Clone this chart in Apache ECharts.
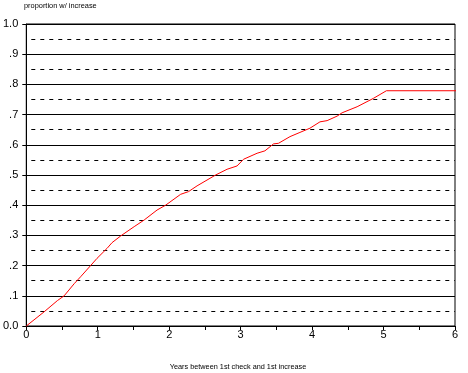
<!DOCTYPE html>
<html>
<head>
<meta charset="utf-8">
<script src="https://cdn.jsdelivr.net/npm/echarts@6/dist/echarts.min.js"></script>
<style>
html, body { margin: 0; padding: 0; background: #fff; }
#chart { width: 468px; height: 373px; }
</style>
</head>
<body>
<div id="chart"></div>
<script>
var years = [0, 0.25, 0.435, 0.53, 0.67, 0.76, 0.90, 0.99, 1.13, 1.20, 1.32, 1.51, 1.65, 1.83, 1.95, 2.16, 2.27, 2.39, 2.65, 2.81, 2.95, 3.04, 3.23, 3.34, 3.46, 3.53, 3.69, 3.83, 3.97, 4.11, 4.21, 4.35, 4.42, 4.63, 4.86, 5.04, 6.2];
var proportions = [0, 0.047, 0.084, 0.10, 0.14, 0.163, 0.20, 0.224, 0.257, 0.276, 0.298, 0.329, 0.351, 0.384, 0.40, 0.436, 0.445, 0.464, 0.50, 0.519, 0.53, 0.552, 0.572, 0.58, 0.603, 0.605, 0.627, 0.641, 0.655, 0.676, 0.68, 0.695, 0.706, 0.726, 0.754, 0.779, 0.779];
var xTickLabels = ['0', '1', '2', '3', '4', '5', '6'];
var yTickLabels = ['0.0', '.1', '.2', '.3', '.4', '.5', '.6', '.7', '.8', '.9', '1.0'];
var yTitle = 'proportion w/ increase';
var xTitle = 'Years between 1st check and 1st increase';

var font = '"Liberation Sans", Arial, sans-serif';
var chart = echarts.init(document.getElementById('chart'), null, { renderer: 'canvas' });
var data = years.map(function (x, i) { return [x, proportions[i]]; });

chart.setOption({
  animation: false,
  backgroundColor: '#fff',
  grid: { left: 25, right: 13, top: 24, bottom: 47, show: true, borderColor: '#000', borderWidth: 1, backgroundColor: 'transparent' },
  xAxis: {
    type: 'value', min: 0, max: 6, interval: 1,
    axisLine: { show: true, onZero: false, lineStyle: { color: '#000', width: 1 } },
    axisTick: { show: true, length: 4, lineStyle: { color: '#000' } },
    minorTick: { show: true, splitNumber: 2, length: 4, lineStyle: { color: '#000' } },
    splitLine: { show: false },
    axisLabel: { color: '#000', fontSize: 11, fontFamily: font, margin: 3,
      formatter: function (v) { return xTickLabels[Math.round(v)]; } }
  },
  yAxis: {
    type: 'value', min: 0, max: 1, interval: 0.1,
    axisLine: { show: true, onZero: false, lineStyle: { color: '#000', width: 1 } },
    axisTick: { show: true, length: 4, lineStyle: { color: '#000' } },
    minorTick: { show: false, splitNumber: 2 },
    splitLine: { show: true, lineStyle: { color: '#000', width: 1 } },
    minorSplitLine: { show: true, lineStyle: { color: '#000', width: 1, type: [4, 5], dashOffset: 4 } },
    axisLabel: { color: '#000', fontSize: 11, fontFamily: font, margin: 8,
      formatter: function (v) { return yTickLabels[Math.round(v * 10)]; } }
  },
  graphic: [
    { type: 'text', left: 24, top: 2, style: { text: yTitle, fontSize: 7.4, fontFamily: font, fill: '#000' } },
    { type: 'text', x: 238, y: 367, style: { text: xTitle, fontSize: 7.3, fontFamily: font, fill: '#000', textAlign: 'center', textVerticalAlign: 'middle' } }
  ],
  series: [{
    type: 'line', data: data, showSymbol: false, symbol: 'none', clip: false, z: 10,
    lineStyle: { color: '#ff0000', width: 1 }
  }]
});
</script>
</body>
</html>
